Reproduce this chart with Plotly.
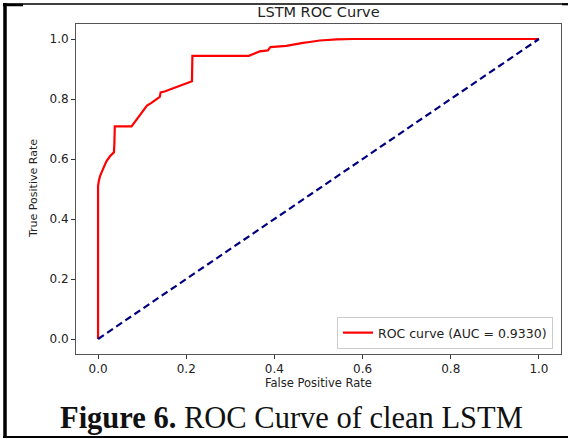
import plotly.graph_objects as go

# ROC curve of the LSTM model (false positive rate vs true positive rate)
fpr = [0.0, 0.0, 0.002, 0.005, 0.010, 0.019, 0.027, 0.036, 0.037, 0.038, 0.076, 0.095,
       0.111, 0.121, 0.140, 0.142, 0.151, 0.213, 0.214, 0.342, 0.367, 0.385,
       0.391, 0.427, 0.450, 0.465, 0.480, 0.503, 0.541, 0.578, 1.0]
tpr = [0.0, 0.510, 0.528, 0.545, 0.562, 0.592, 0.609, 0.622, 0.650, 0.709, 0.709, 0.748,
       0.778, 0.787, 0.807, 0.822, 0.825, 0.859, 0.944, 0.944, 0.959, 0.962,
       0.973, 0.977, 0.984, 0.987, 0.990, 0.995, 0.999, 1.0, 1.0]
chance_x = [0.0, 1.0]
chance_y = [0.0, 1.0]
auc_value = 0.9330

tick_vals = [0.0, 0.2, 0.4, 0.6, 0.8, 1.0]

W, H = 568, 439
ML, MR, MT, MB = 76, 7, 24, 85
PW, PH = W - ML - MR, H - MT - MB


def px(xp):
    """Pixel column -> paper x."""
    return (xp - ML) / PW


def py(yp):
    """Pixel row -> paper y."""
    return (H - MB - yp) / PH


fig = go.Figure()
fig.add_trace(go.Scatter(
    x=fpr, y=tpr, mode="lines",
    line=dict(color="#ff0000", width=2.2),
    name=f"ROC curve (AUC = {auc_value:.4f})",
))
fig.add_trace(go.Scatter(
    x=chance_x, y=chance_y, mode="lines",
    line=dict(color="#000080", width=2.2, dash="7px,4px"),
    showlegend=False,
))

axis_common = dict(
    showgrid=False, zeroline=False, showline=True, mirror=True,
    linecolor="#555555", linewidth=1,
    ticks="outside", ticklen=4, tickwidth=1, tickcolor="#333333",
    tickvals=tick_vals, tickformat=".1f",
    tickfont=dict(family="DejaVu Sans", size=12, color="#222222"),
)
fig.update_xaxes(range=[-0.05, 1.05], **axis_common)
fig.update_yaxes(range=[-0.05, 1.05], **axis_common)

black = "#000000"
frame = [
    # left edge of the figure frame
    dict(x0=px(5), x1=px(5), y0=py(3), y1=py(437), width=3.5),
    # top edge
    dict(x0=px(3), x1=px(568), y0=py(4), y1=py(4), width=1.3),
    dict(x0=px(3), x1=px(23), y0=py(5), y1=py(5), width=2.5),
    dict(x0=px(562), x1=px(568), y0=py(4.3), y1=py(4.3), width=2),
    # bottom edge
    dict(x0=px(3), x1=px(568), y0=py(437), y1=py(437), width=2),
]
shapes = []
for f in frame:
    shapes.append(dict(type="line", xref="paper", yref="paper",
                       x0=f["x0"], x1=f["x1"], y0=f["y0"], y1=f["y1"],
                       line=dict(color=black, width=f["width"])))

annotations = [
    dict(text="False Positive Rate", xref="paper", yref="paper",
         x=0.5, y=py(383), xanchor="center", yanchor="middle", showarrow=False,
         font=dict(family="DejaVu Sans", size=11.5, color="#222222")),
    dict(text="True Positive Rate", xref="paper", yref="paper",
         x=px(33), y=py(189), xanchor="center", yanchor="middle", showarrow=False,
         textangle=-90,
         font=dict(family="DejaVu Sans", size=11, color="#222222")),
    dict(text="<b>Figure 6.</b> ROC Curve of clean LSTM", xref="paper", yref="paper",
         x=px(291), y=py(418), xanchor="center", yanchor="middle", showarrow=False,
         font=dict(family="Liberation Serif", size=30.5, color="#111111")),
]

fig.update_layout(
    width=W, height=H,
    margin=dict(l=ML, r=MR, t=MT, b=MB),
    paper_bgcolor="white", plot_bgcolor="white",
    title=dict(text="LSTM ROC Curve", x=0.5, xref="paper",
               y=1 - 12 / H, yref="container", yanchor="middle", xanchor="center",
               font=dict(family="DejaVu Sans", size=14.5, color="#222222")),
    legend=dict(x=px(553), y=py(349), xanchor="right", yanchor="bottom",
                bgcolor="white", bordercolor="#cccccc", borderwidth=1,
                font=dict(family="DejaVu Sans", size=12.5, color="#222222")),
    shapes=shapes,
    annotations=annotations,
)

fig.write_html("out.html")
